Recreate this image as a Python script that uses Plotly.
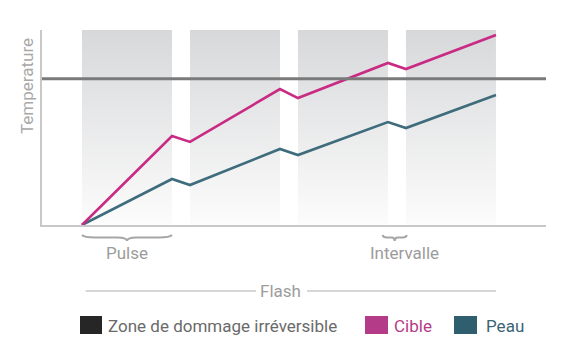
import plotly.graph_objects as go

# ---- data ----
times = [0, 5, 6, 11, 12, 17, 18, 23]
cible = [0, 45.6, 42.6, 69.7, 65.1, 83.1, 80.0, 97.4]
peau = [0, 23.6, 20.5, 39.0, 35.9, 52.8, 49.7, 66.7]
seuil = 75
pulses = [(0, 5), (6, 11), (12, 17), (18, 23)]
labels = {"pulse": "Pulse", "interval": "Intervalle", "flash": "Flash", "ytitle": "Temperature"}
legend_names = ["Zone de dommage irréversible", "Cible", "Peau"]

# ---- geometry helpers ----
W, H = 568, 361
L, R, T, B = 42, 22, 30, 136
PW, PH = W - L - R, H - T - B
XR = [-2.222, 25.78]
YR = [0, 100]

def px(xp):
    return (xp - L) / PW

def py(yp):
    return (T + PH - yp) / PH

C_CIBLE = "#c92a84"
C_PEAU = "#3e6c7c"
GRAY_TXT = "#9c9c9c"
FONT = "Roboto"

fig = go.Figure()

# gradient bands for pulses
for (a, b) in pulses:
    fig.add_trace(go.Scatter(
        x=[a, b, b, a, a], y=[YR[0], YR[0], YR[1], YR[1], YR[0]],
        mode="lines", line=dict(width=0), fill="toself",
        fillgradient=dict(type="vertical", colorscale=[[0, "#fcfcfc"], [1, "#d7d8da"]]),
        hoverinfo="skip", showlegend=False))

# threshold line
fig.add_shape(type="line", xref="paper", yref="y", x0=0, x1=1, y0=seuil, y1=seuil,
              line=dict(color="#7a7a7a", width=3))

fig.add_trace(go.Scatter(x=times, y=peau, mode="lines", name=legend_names[2],
                         line=dict(color=C_PEAU, width=2.6), showlegend=False))
fig.add_trace(go.Scatter(x=times, y=cible, mode="lines", name=legend_names[1],
                         line=dict(color=C_CIBLE, width=2.6), showlegend=False))

# braces
def brace(x1, x2, ytop, ymidp, ybot):
    xm = (x1 + x2) / 2
    d = min((x2 - x1) * 0.08, 0.35)
    y0, y1, y2 = py(ytop), py(ymidp), py(ybot)
    return (f"M {x1},{y0} Q {x1 + d * 0.4},{y1} {x1 + 2 * d},{y1} L {xm - 1.5 * d},{y1} "
            f"Q {xm},{y1} {xm},{y2} Q {xm},{y1} {xm + 1.5 * d},{y1} "
            f"L {x2 - 2 * d},{y1} Q {x2 - d * 0.4},{y1} {x2},{y0}")

p0 = pulses[0]
fig.add_shape(type="path", xref="x", yref="paper", path=brace(p0[0], p0[1], 235, 237.5, 241),
              line=dict(color="#a6a6a6", width=2))
ia, ib = pulses[2][1], pulses[3][0]
fig.add_shape(type="path", xref="x", yref="paper", path=brace(ia - 0.3, ib + 0.05, 235, 237.5, 241),
              line=dict(color="#a6a6a6", width=2))

fig.add_annotation(x=(p0[0] + p0[1]) / 2, y=py(253), xref="x", yref="paper", text=labels["pulse"],
                   showarrow=False, font=dict(family=FONT, size=17, color=GRAY_TXT),
                   xanchor="center", yanchor="middle")
fig.add_annotation(x=(ia + ib) / 2, y=py(253), xref="x", yref="paper", text=labels["interval"],
                   xshift=8, showarrow=False, font=dict(family=FONT, size=17, color=GRAY_TXT),
                   xanchor="center", yanchor="middle")

# flash line
fx0, fx1 = times[0] + 0.2, times[-1]
fig.add_shape(type="line", xref="x", yref="paper", x0=fx0, x1=(256 - 82) / 18, y0=py(291), y1=py(291),
              line=dict(color="#c8c8c8", width=1.5))
fig.add_shape(type="line", xref="x", yref="paper", x0=(307 - 82) / 18, x1=fx1, y0=py(291), y1=py(291),
              line=dict(color="#c8c8c8", width=1.5))
fig.add_annotation(x=(281 - 82) / 18, y=py(291), xref="x", yref="paper", text=labels["flash"],
                   showarrow=False, font=dict(family=FONT, size=17, color=GRAY_TXT),
                   xanchor="center", yanchor="middle")

# y title
fig.add_annotation(x=px(27), y=py(86), xref="paper", yref="paper", text=labels["ytitle"], textangle=-90,
                   xanchor="center", yanchor="middle",
                   showarrow=False, font=dict(family=FONT, size=17, color="#a8a8a8"))

# custom legend
leg = [(80, 102, "#262626", legend_names[0], "#6a6a6a", 106),
       (365, 388, "#b43b87", legend_names[1], "#b43b87", 392),
       (454, 477, "#2f5f6f", legend_names[2], "#3a6474", 484)]
for (a, b, col, txt, tcol, tx) in leg:
    fig.add_shape(type="rect", xref="paper", yref="paper", x0=px(a), x1=px(b), y0=py(334), y1=py(316),
                  fillcolor=col, line=dict(width=0))
    fig.add_annotation(x=px(tx), y=py(326), xref="paper", yref="paper", text=txt, xanchor="left",
                       yanchor="middle", showarrow=False, font=dict(family=FONT, size=17, color=tcol))

fig.update_xaxes(range=XR, showgrid=False, zeroline=False, showticklabels=False, ticks="",
                 showline=True, linecolor="#c8c8c8", linewidth=1.5)
fig.update_yaxes(range=YR, showgrid=False, zeroline=False, showticklabels=False, ticks="",
                 showline=True, linecolor="#c8c8c8", linewidth=1.5)
fig.update_layout(width=W, height=H, margin=dict(l=L, r=R, t=T, b=B),
                  plot_bgcolor="white", paper_bgcolor="white", showlegend=False, hovermode=False,
                  font=dict(family=FONT))

fig.write_html("out.html", config={"displayModeBar": False},
               post_script="document.body.style.margin='0';")
